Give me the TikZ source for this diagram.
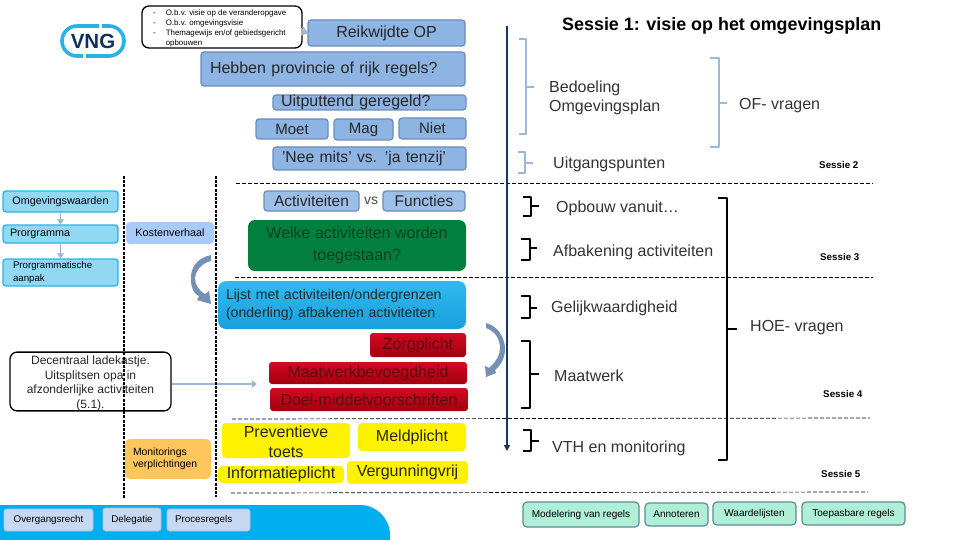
\documentclass[tikz,border=0pt]{standalone}
\usepackage{fontspec}
\setmainfont{Liberation Sans}
\usetikzlibrary{arrows.meta}
\definecolor{boxblue}{HTML}{8DB4E2}
\definecolor{softblue}{HTML}{9CBFE8}
\definecolor{boxedge}{HTML}{6A8CB8}
\definecolor{cyanfill}{HTML}{92D8F3}
\definecolor{cyanedge}{HTML}{2AB1E6}
\definecolor{navy}{HTML}{17375E}
\definecolor{bracketblue}{HTML}{9DB8D6}
\definecolor{steel}{HTML}{7490B5}
\definecolor{mint}{HTML}{AEEFD6}
\definecolor{mintedge}{HTML}{5F8A99}
\definecolor{barblue}{HTML}{00AEEF}
\definecolor{greenfill}{HTML}{00803C}
\definecolor{greentext}{HTML}{0F3F26}
\definecolor{skytop}{HTML}{2FBAF0}
\definecolor{skybot}{HTML}{1A9FDC}
\definecolor{redtop}{HTML}{D40A20}
\definecolor{redbot}{HTML}{A0000F}
\definecolor{redtext}{HTML}{5E0A14}
\definecolor{palefill}{HTML}{A8CBF7}
\definecolor{orangefill}{HTML}{FFC65C}
\definecolor{greyfill}{HTML}{C6D9F1}
\definecolor{greyedge}{HTML}{A9C4DE}
\definecolor{logotext}{HTML}{12305E}
\newcommand\fs[2]{\fontsize{#1}{#2}\selectfont}
% name, x1, y1, x2, y2, style, text
\newcommand\bxx[7]{\node[minimum width={(#4-#2)*1pt},minimum height={(#5-#3)*1pt},inner sep=0pt,align=center,#6] (#1) at ({(#2+#4)/2},{(#3+#5)/2}) {#7};}
\tikzset{
 plainbox/.style={rounded corners=3pt,draw=boxedge,line width=1.2pt,fill=boxblue,text=black!85,font=\fs{16}{18}},
 softbox/.style={rounded corners=3pt,draw=boxedge,line width=1.2pt,fill=softblue,text=black!85,font=\fs{15.5}{18}},
 cyanbox/.style={rounded corners=3pt,draw=cyanedge,line width=1.3pt,fill=cyanfill,font=\fs{10.8}{12.2}},
 whitebox/.style={rounded corners=7pt,draw=black,line width=1.3pt,fill=white},
 greenbox/.style={rounded corners=7pt,fill=greenfill,text=greentext,font=\fs{16}{22.5}},
 skybox/.style={rounded corners=8pt,top color=skytop,bottom color=skybot,text=black!85,font=\fs{14.1}{17.3}},
 redbox/.style={rounded corners=3pt,top color=redtop,bottom color=redbot,text=redtext,font=\fs{16}{18}},
 yellowbox/.style={rounded corners=4pt,fill=yellow,text=black!85,font=\fs{16}{20.5}},
 paleblue/.style={rounded corners=4pt,fill=palefill,font=\fs{10.8}{12}},
 orangebox/.style={rounded corners=5pt,fill=orangefill,font=\fs{10.4}{12}},
 greybox/.style={rounded corners=2.5pt,draw=greyedge,line width=.8pt,fill=greyfill,font=\fs{9.8}{10}},
 mintbox/.style={rounded corners=4pt,draw=mintedge,line width=1.2pt,fill=mint,font=\fs{10}{10}},
 txt/.style={inner sep=0pt,anchor=west,align=left,text=black!80,font=\fs{16}{19}},
 sesslabel/.style={inner sep=0pt,anchor=west,text=black,font=\bfseries\fs{9.8}{10}},
 bracketline/.style={line width=1.4pt,draw=bracketblue},
 bracketthick/.style={line width=2pt,draw=black},
 dividing/.style={draw=black,line width=.7pt,dash pattern=on 4pt off 2pt},
 fencing/.style={draw=black,line width=2.4pt,dash pattern=on 3pt off 1.2pt},
 softarrow/.style={draw=bracketblue,line width=1.8pt,-{Triangle[length=5pt,width=7pt]}},
}
\newcommand\bracketmark[7]{\draw[#7,line join=round] (#1,#2) -- (#3,#2) -- (#3,#4) -- (#1,#4) (#3,#6) -- (#5,#6);}
\begin{document}
\begin{tikzpicture}[x=1pt,y=-1pt]
\useasboundingbox (0,0) rectangle (960,540);
\fill[white] (0,0) rectangle (960,540);
% bottom bar
\fill[barblue,rounded corners=30pt] (-40,505) -- (390,505) -- (390,580) -- (-40,580) -- cycle;
% VNG logo
\draw[cyanedge,line width=3.6pt,rounded corners=15pt] (99,26) -- (62,26) -- (62,56) -- (83,56);
\draw[cyanedge,line width=3.6pt,rounded corners=15pt] (102,26) -- (124,26) -- (124,56) -- (86,56);
\node[inner sep=0pt,text=logotext,font=\bfseries\fs{20.5}{21}] (logo) at (93,41.5) {VNG};
% upper note
\bxx{note}{142}{6}{302}{48}{whitebox}{}
\node[inner sep=0pt,anchor=north west,align=left,text=black,font=\fs{7.9}{9.7}] (notet) at (153,10) {-\hspace{10pt}O.b.v. visie op de veranderopgave\\-\hspace{10pt}O.b.v. omgevingsvisie\\-\hspace{10pt}Themagewijs en/of gebiedsgericht\\\hspace*{12.6pt}opbouwen};
\bxx{reik}{308}{20}{465}{46}{plainbox}{Reikwijdte OP}
\fill[bracketblue] (301,28) -- (308,33) -- (301,36) -- cycle;
\draw[bracketblue,line width=1.5pt] (note.east) -- (reik.west);
\bxx{hebben}{201}{52}{465}{86}{plainbox,text width=246pt,align=left}{Hebben provincie of rijk regels?}
\bxx{uit}{273}{95}{466}{110}{plainbox,text width=177pt,align=left}{Uitputtend geregeld?}
\bxx{moet}{256}{119}{328}{139}{plainbox,font=\fs{15}{15}}{Moet}
\bxx{mag}{334}{119}{393}{140}{plainbox,font=\fs{15}{15}}{Mag}
\bxx{niet}{399}{118}{466}{139}{plainbox,font=\fs{15}{15}}{Niet}
\bxx{nee}{273}{147}{466}{170}{plainbox,font=\fs{15.7}{15},text width=185pt,align=left}{\hspace*{5pt}'Nee mits' vs. 'ja tenzij'}
% dividers
\coordinate (d1a) at (236,183); \coordinate (d1b) at (873,183);
\coordinate (d2a) at (235,277); \coordinate (d2b) at (873,277);
\coordinate (d3a) at (232,419); \coordinate (d3b) at (870,418);
\coordinate (d4a) at (231,493); \coordinate (d4b) at (868,492);
\draw[dividing] (d1a) -- (d1b);
\draw[dividing] (d2a) -- (d2b);
\draw[dividing] (d3a) -- (d3b);
\draw[dividing] (d4a) -- (d4b);
% activity row
\bxx{act}{264}{191}{359}{211}{softbox}{Activiteiten}
\node[inner sep=0pt,text=black!70,font=\fs{14}{14}] (vs) at (371,201) {vs};
\bxx{fun}{383}{191}{465}{211}{softbox}{Functies}
\bxx{welke}{248}{220}{466}{271}{greenbox}{Welke activiteiten worden\\toegestaan?}
\bxx{lijst}{218}{281}{466}{329}{skybox,text width=232pt,align=left}{Lijst met activiteiten/ondergrenzen\\(onderling) afbakenen activiteiten}
\bxx{zorg}{370}{333}{466}{357}{redbox}{Zorgplicht}
\bxx{maat}{269}{362}{467}{384}{redbox}{Maatwerkbevoegdheid}
\bxx{doel}{270}{388}{468}{411}{redbox}{Doel-middelvoorschriften}
\bxx{prev}{222}{423}{350}{458}{yellowbox}{\rule{0pt}{14pt}Preventieve\\toets}
\bxx{meld}{358}{423}{466}{451}{yellowbox}{Meldplicht}
\bxx{info}{218}{466}{344}{483}{yellowbox}{Informatieplicht}
\bxx{verg}{347}{461}{468}{484}{yellowbox}{Vergunningvrij}
% left column
\bxx{omg}{3}{191}{118}{212}{cyanbox}{Omgevingswaarden}
\bxx{prog}{3}{225}{118}{243}{cyanbox,text width=101pt,align=left}{Prorgramma}
\bxx{aanp}{3}{259}{118}{286}{cyanbox,text width=95pt,align=left,font=\fs{9.7}{12.2}}{Prorgrammatische\\aanpak}
\draw[softarrow,line width=1.5pt] (omg.south) -- (prog.north);
\draw[softarrow,line width=1.5pt] (prog.south) -- (aanp.north);
\bxx{kost}{126}{222}{214}{244}{paleblue}{Kostenverhaal}
\bxx{moni}{125}{439}{211}{479}{orangebox,text width=70pt,align=left}{Monitorings\\verplichtingen}
% decentraal note
\bxx{dec}{10}{353}{171}{410}{whitebox,font=\fs{12}{14.6},text=black!85}{\rule{0pt}{12.5pt}Decentraal ladekastje.\\Uitsplitsen opa in\\afzonderlijke activiteiten\\(5.1).}
\coordinate (decend) at (257,384);
\draw[softarrow] (dec.east |- decend) -- (decend);
% fences
\coordinate (f1a) at (124,176); \coordinate (f1b) at (124,498);
\coordinate (f2a) at (216,176); \coordinate (f2b) at (216,497);
\draw[fencing] (f1a) -- (f1b);
\draw[fencing] (f2a) -- (f2b);
% curved arrows
\fill[steel] (211,255) .. controls (197,258) and (190,268) .. (191,280) .. controls (191,288) and (194,294) .. (199,296) -- (197,300) -- (211,304) -- (209,291) -- (205,294) .. controls (198,290) and (195,284) .. (195,278) .. controls (196,270) and (202,263) .. (211,261) -- cycle;
\fill[steel] (486,323) .. controls (498,326) and (505,338) .. (505,349) .. controls (505,358) and (501,365) .. (495,370) -- (496,373) -- (486,377) -- (485,366) -- (489,368) .. controls (496,362) and (500,355) .. (500,348) .. controls (500,339) and (495,331) .. (486,328) -- cycle;
% bottom boxes
\bxx{over}{4}{509}{93}{531}{greybox}{Overgangsrecht}
\bxx{dele}{103}{508}{161}{531}{greybox}{Delegatie}
\bxx{proc}{167}{509}{250}{531}{greybox,text width=67pt,align=left}{Procesregels}
\bxx{mode}{523}{502}{639}{527}{mintbox}{Modelering van regels}
\bxx{anno}{645}{503}{708}{526}{mintbox}{Annoteren}
\bxx{waar}{713}{502}{796}{525}{mintbox}{Waardelijsten}
\bxx{toep}{802}{502}{905}{525}{mintbox}{Toepasbare regels}
% main axis
\coordinate (axa) at (507,26); \coordinate (axb) at (507,451);
\draw[navy,line width=1.5pt,-{Triangle[length=6pt,width=6pt]}] (axa) -- (axb);
% brackets
\bracketmark{519}{39}{526}{134}{534}{87}{bracketline}
\bracketmark{710}{58}{719}{147}{727}{103}{bracketline,line width=2pt}
\bracketmark{518}{152}{525}{173}{533}{163}{bracketline,line width=2pt}
\bracketmark{523}{197}{531}{216}{539}{206}{bracketthick}
\bracketmark{521}{239}{530}{260}{537}{248}{bracketthick}
\bracketmark{521}{296}{530}{318}{537}{308}{bracketthick}
\bracketmark{521}{341}{530}{408}{539}{374}{bracketthick}
\bracketmark{523}{430}{531}{451}{539}{441}{bracketthick}
\bracketmark{718}{198}{727}{460}{737}{329}{bracketthick,line width=2.4pt}
% right texts
\node[txt,text=black,font=\bfseries\fs{17.9}{18}] (s1) at (562,26) {Sessie 1: visie op het omgevingsplan};
\node[txt] (bed) at (549,97.5) {Bedoeling\\Omgevingsplan};
\node[txt] (of) at (739,106) {OF- vragen};
\node[txt] (ug) at (553,164) {Uitgangspunten};
\node[sesslabel] (s2) at (819,165) {Sessie 2};
\node[txt] (op) at (556,208) {Opbouw vanuit…};
\node[txt] (af) at (553,252) {Afbakening activiteiten};
\node[sesslabel] (s3) at (820,257) {Sessie 3};
\node[txt] (ge) at (551,308) {Gelijkwaardigheid};
\node[txt] (hoe) at (750,328) {HOE- vragen};
\node[txt] (mw) at (554,376) {Maatwerk};
\node[sesslabel] (s4) at (823,394) {Sessie 4};
\node[txt] (vth) at (552,448) {VTH en monitoring};
\node[sesslabel] (s5) at (821,474) {Sessie 5};
\end{tikzpicture}
\end{document}
